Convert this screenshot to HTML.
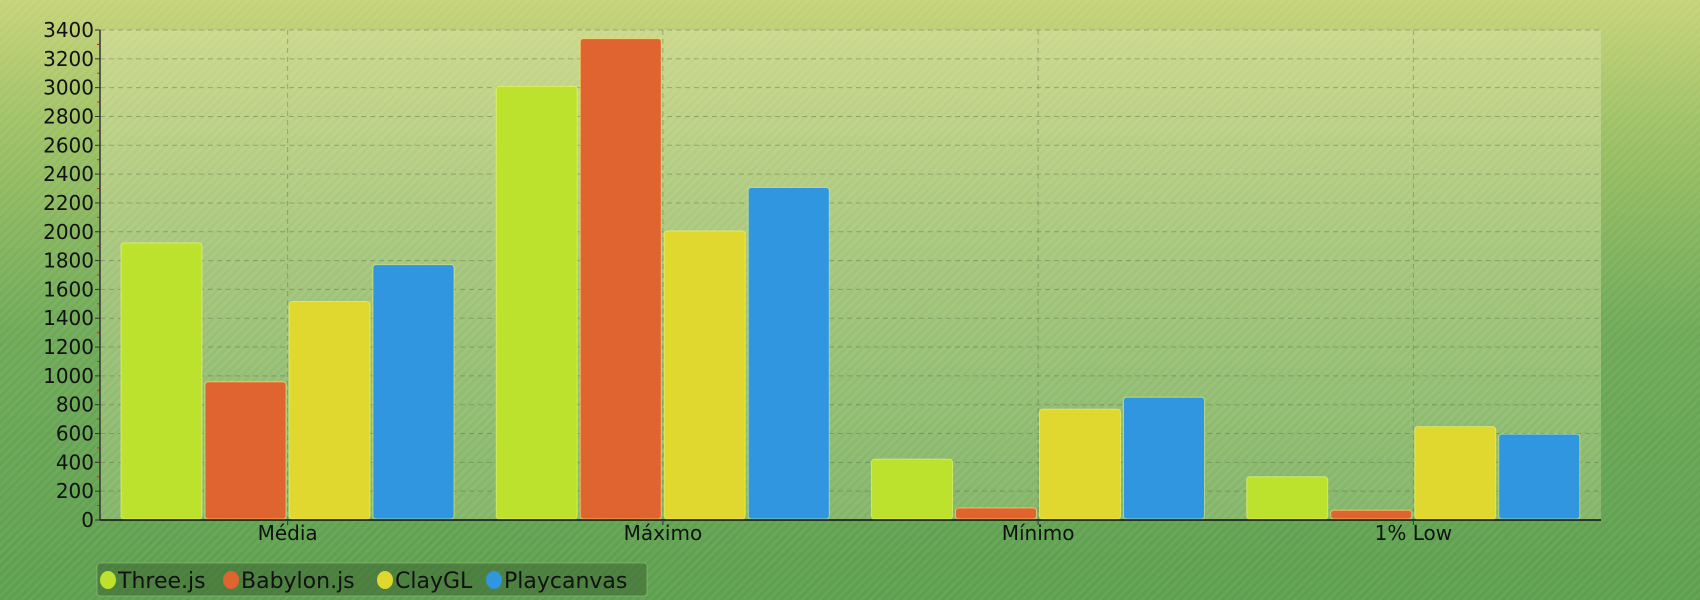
<!DOCTYPE html>
<html><head><meta charset="utf-8">
<style>
html,body{margin:0;padding:0;width:1700px;height:600px;overflow:hidden}
body{background:linear-gradient(to bottom,#c6d378 0%,#9cc064 22%,#6ea957 55%,#5c9f4e 100%);font-family:"DejaVu Sans","Liberation Sans",sans-serif}
svg{position:absolute;left:0;top:0}
</style></head>
<body>
<svg id="chart" width="1700" height="600">
<defs>
<pattern id="stripes" width="6" height="6" patternUnits="userSpaceOnUse" patternTransform="rotate(45)">
<rect width="3" height="6" fill="rgba(255,255,255,0.06)"/>
</pattern>
<linearGradient id="plotbg" x1="0" y1="0" x2="0" y2="1">
<stop offset="0" stop-color="#cdd98f"/>
<stop offset="0.5" stop-color="#a9c880"/>
<stop offset="1" stop-color="#88b86c"/>
</linearGradient>
</defs>
<rect width="1700" height="600" fill="url(#stripes)"/>
<g id="plot"></g>
</svg>
<script>
const categories = ["Média","Máximo","Mínimo","1% Low"];
const seriesNames = ["Three.js","Babylon.js","ClayGL","Playcanvas"];
const seriesColors = ["#bce22e","#e0642f","#e0d82e","#2f96df"];
const threeValues = [1923, 3009, 422, 300];
const babylonValues = [958, 3340, 83, 68];
const clayValues = [1516, 2006, 769, 648];
const playValues = [1772, 2307, 852, 596];
const yTicks = [0,200,400,600,800,1000,1200,1400,1600,1800,2000,2200,2400,2600,2800,3000,3200,3400];
const series = [threeValues, babylonValues, clayValues, playValues];

const NS = "http://www.w3.org/2000/svg";
const L = 100, R = 1601, T = 30, B = 520, YMAX = 3400;
const y = v => B - v / YMAX * (B - T);
const groupW = (R - L) / categories.length;
const x = i => L + i * groupW;
const g = document.getElementById('plot');
function mk(tag, attrs, parent) {
  const e = document.createElementNS(NS, tag);
  for (const k in attrs) e.setAttribute(k, attrs[k]);
  (parent || g).appendChild(e);
  return e;
}
let e = mk('rect', {x: L, y: T, width: R - L, height: B - T, fill: 'url(#plotbg)', opacity: 0.85});


mk('rect', {x: L, y: T, width: R - L, height: B - T, fill: 'url(#stripes)'});
// gridlines and y ticks
yTicks.forEach(v => {
  const yy = y(v);
  if (v > 0) {
    const gl = mk('line', {x1: L, x2: R, y1: yy, y2: yy, stroke: 'rgba(90,110,70,0.45)', 'stroke-dasharray': '5,4', 'stroke-width': 1});
    
    
  }
  mk('line', {x1: L - 5, x2: L, y1: yy, y2: yy, stroke: '#333', 'stroke-width': 1});
  const mt = y(v + 100);
  if (v < YMAX) mk('line', {x1: L - 3, x2: L, y1: mt, y2: mt, stroke: '#e02020', 'stroke-width': 1});
  const t = mk('text', {x: L - 6, y: yy + 7, 'text-anchor': 'end', 'font-size': 20, fill: '#111'});
  t.textContent = v;
  
  
});
// category vertical gridlines
categories.forEach((c, i) => {
  const cx = x(i) + groupW / 2;
  const vl = mk('line', {x1: cx, x2: cx, y1: T, y2: B, stroke: 'rgba(90,110,70,0.45)', 'stroke-dasharray': '5,4'});
  
  
});
// bars
const pad = 21, bw = 81, gap = 3;
series.forEach((vals, s) => {
  vals.forEach((v, i) => {
    const bx = x(i) + pad + s * (bw + gap);
    const r = mk('rect', {x: bx, y: y(v), width: bw, height: B - 1 - y(v), rx: 3, ry: 3, fill: seriesColors[s], stroke: 'rgba(255,255,120,0.5)', 'stroke-width': 1});
    
    
  });
});
// axes
mk('line', {x1: L, x2: L, y1: T, y2: B, stroke: '#333', 'stroke-width': 1.5});
mk('line', {x1: L, x2: R, y1: B, y2: B, stroke: '#111', 'stroke-width': 1.5});
categories.forEach((c, i) => {
  const cx = x(i) + groupW / 2;
  mk('line', {x1: cx, x2: cx, y1: B, y2: B + 5, stroke: '#333'});
  const t = mk('text', {x: cx, y: B + 20, 'text-anchor': 'middle', 'font-size': 20, fill: '#111'});
  t.textContent = c;
  
  
});
// legend
const lg = mk('g', {});


mk('rect', {x: 97, y: 563, width: 550, height: 33, rx: 3, fill: 'rgba(60,100,50,0.55)', stroke: 'rgba(150,190,120,0.6)'}, lg);
const lx = [100, 223, 377, 486];
seriesNames.forEach((n, s) => {
  const eg = mk('g', {}, lg);
  
  
  mk('ellipse', {cx: lx[s] + 8, cy: 580, rx: 8, ry: 9, fill: seriesColors[s]}, eg);
  const t = mk('text', {x: lx[s] + 18, y: 588, 'font-size': 22, fill: '#111'}, eg);
  t.textContent = n;
});
</script>
</body></html>
